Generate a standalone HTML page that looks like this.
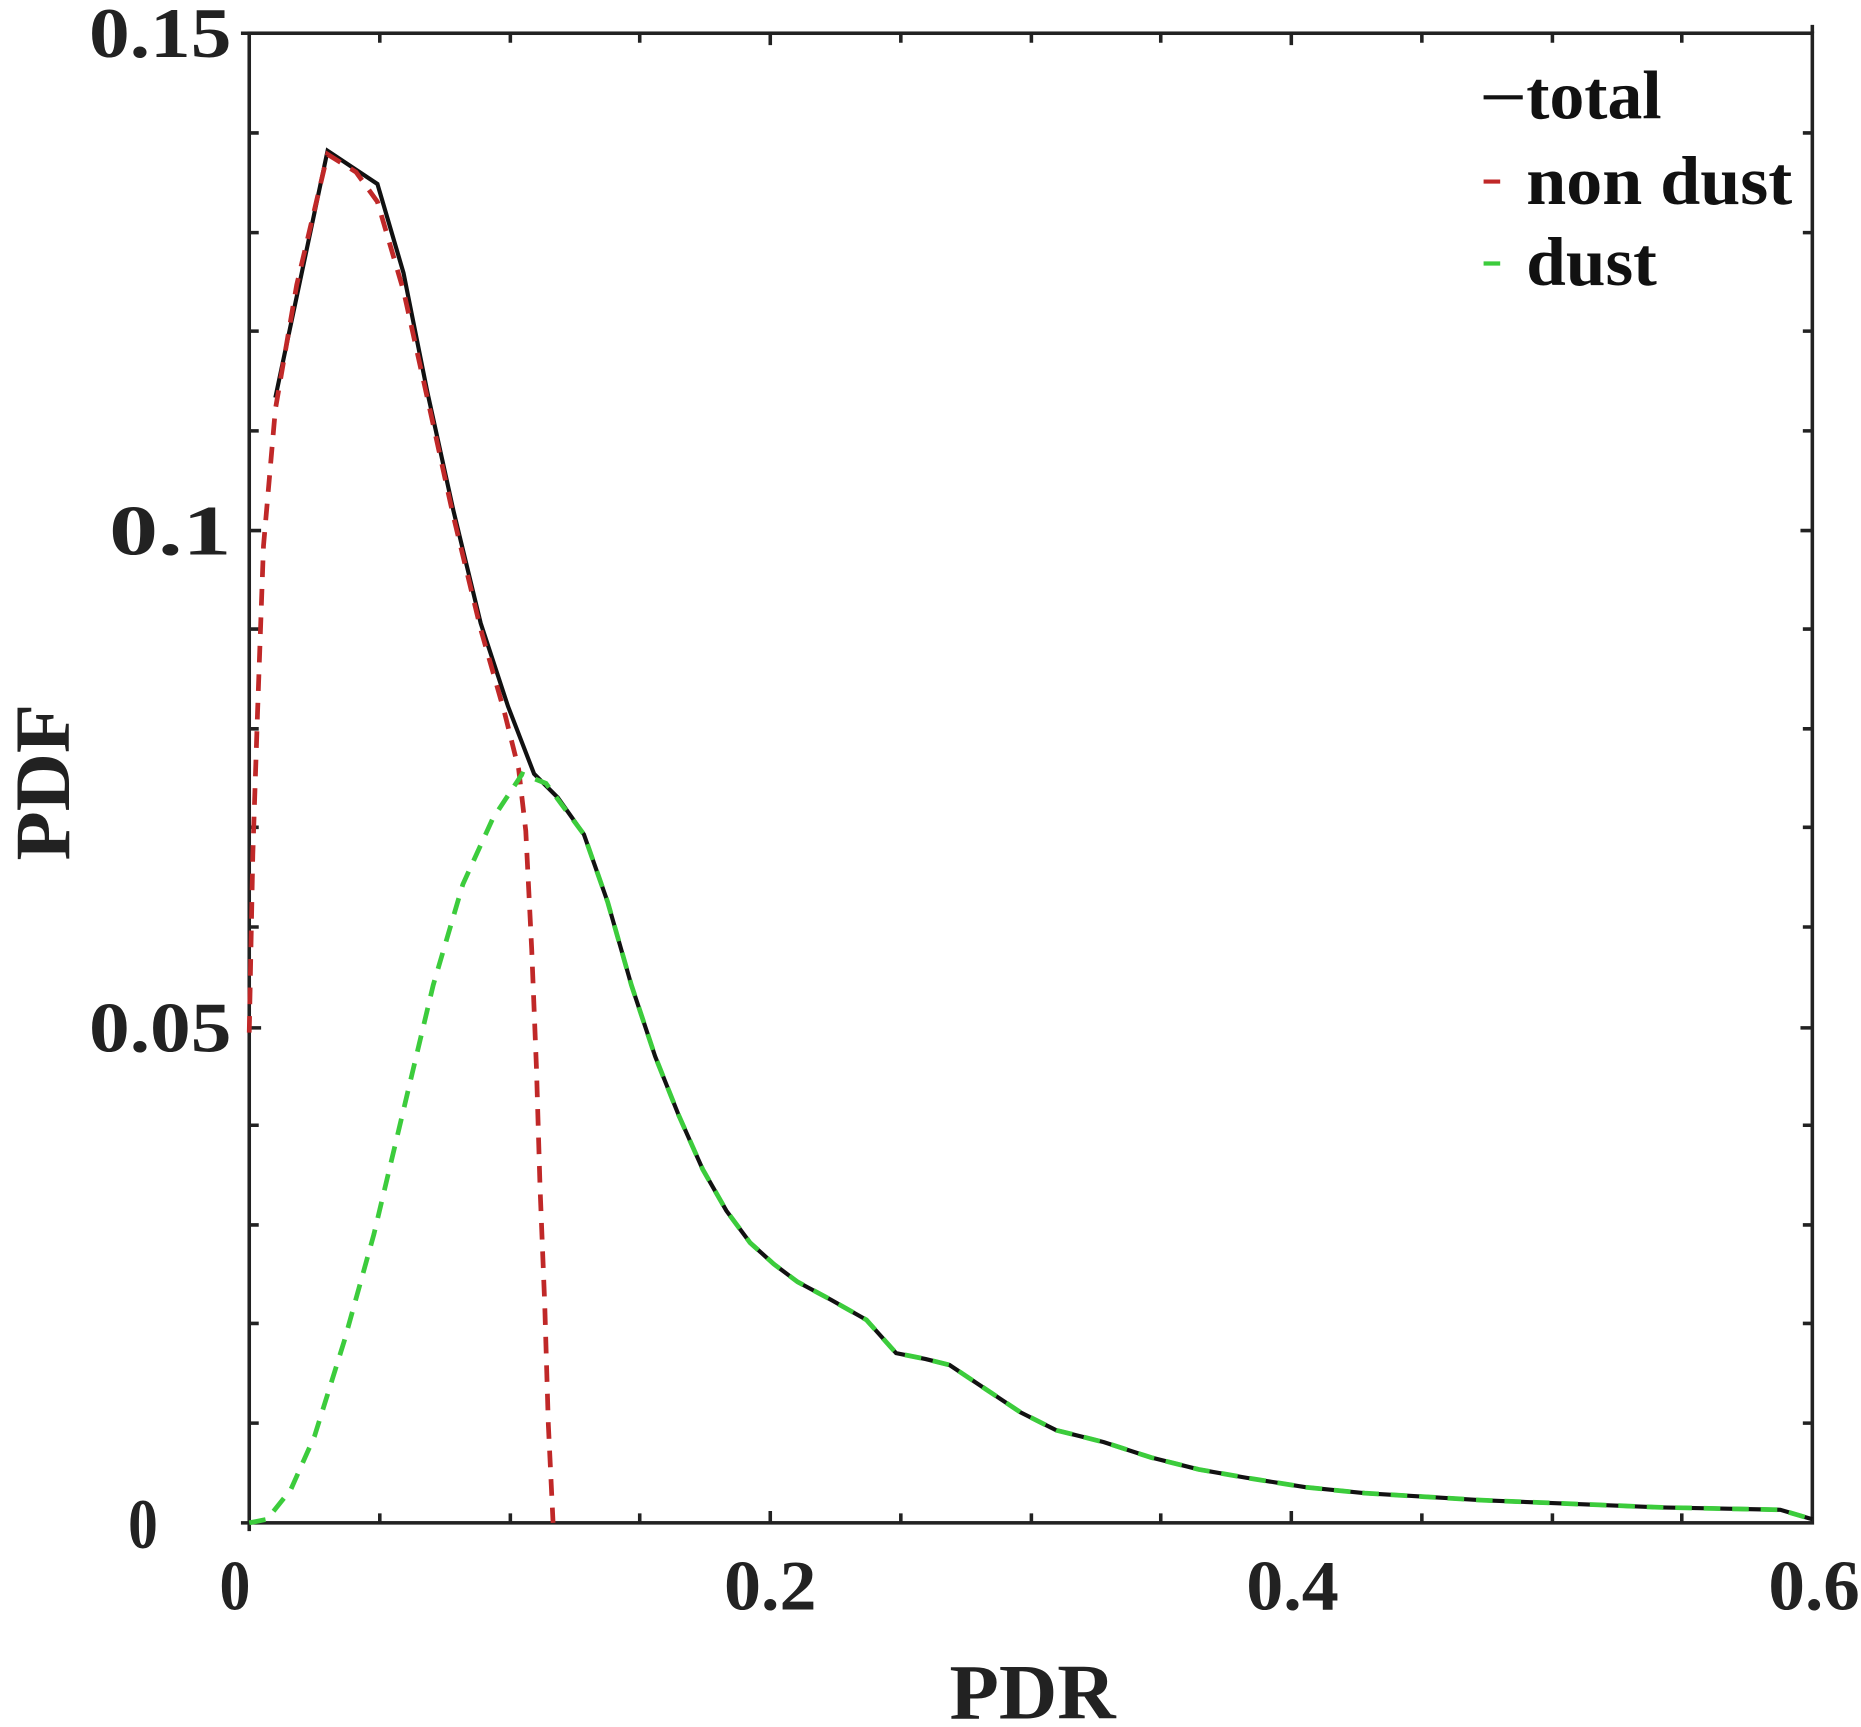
<!DOCTYPE html>
<html><head><meta charset="utf-8"><style>html,body{margin:0;padding:0;background:#fff}svg{display:block}text{font-family:"Liberation Serif","DejaVu Serif",serif;font-weight:bold}</style></head>
<body>
<svg width="1861" height="1727" viewBox="0 0 1568 1455" preserveAspectRatio="none" xmlns="http://www.w3.org/2000/svg">
<rect width="1568" height="1455" fill="#fff"/>
<g stroke="#222" stroke-width="3" fill="none">
<rect x="210" y="28" width="1317" height="1255"/>
<path d="M203 1283h7M203 28h7M210 1283v7M1527 28v-7"/>
<path d="M210 1199h8M210 1115h8M210 1032h8M210 948h8M210 866h10M210 781h8M210 697h8M210 614h8M210 530h8M210 447h10M210 363h8M210 279h8M210 196h8M210 112h8
M1527 1199h-8M1527 1115h-8M1527 1032h-8M1527 948h-8M1527 866h-10M1527 781h-8M1527 697h-8M1527 614h-8M1527 530h-8M1527 447h-10M1527 363h-8M1527 279h-8M1527 196h-8M1527 112h-8"/>
<path d="M320 1283v-8M430 1283v-8M539 1283v-8M649 1283v-10M759 1283v-8M869 1283v-8M978 1283v-8M1088 1283v-10M1198 1283v-8M1308 1283v-8M1417 1283v-8
M320 28v8M430 28v8M539 28v8M649 28v10M759 28v8M869 28v8M978 28v8M1088 28v10M1198 28v8M1308 28v8M1417 28v8"/>
</g>
<g font-size="60" fill="#222">
<text x="75" y="48" textLength="120" lengthAdjust="spacingAndGlyphs">0.15</text>
<text x="92" y="467" textLength="103" lengthAdjust="spacingAndGlyphs">0.1</text>
<text x="75" y="886" textLength="120" lengthAdjust="spacingAndGlyphs">0.05</text>
<text x="108" y="1304" textLength="25" lengthAdjust="spacingAndGlyphs">0</text>
<text x="185" y="1356" textLength="26" lengthAdjust="spacingAndGlyphs">0</text>
<text x="610" y="1356" textLength="78" lengthAdjust="spacingAndGlyphs">0.2</text>
<text x="1050" y="1356" textLength="78" lengthAdjust="spacingAndGlyphs">0.4</text>
<text x="1490" y="1356" textLength="77" lengthAdjust="spacingAndGlyphs">0.6</text>
<text x="800" y="1448" font-size="66" textLength="140" lengthAdjust="spacingAndGlyphs">PDR</text>
<text transform="translate(58,725) rotate(-90)" font-size="66" textLength="132" lengthAdjust="spacingAndGlyphs">PDF</text>
</g>
<polyline fill="none" stroke="#111" stroke-width="3.5" points="232,335 276,127 318,155 340,230 360,330 382,430 405,525 428,595 450,652 470,672 492,703 512,760 532,830 552,890 572,940 592,985 612,1020 632,1047 652,1065 672,1080 700,1095 730,1112 755,1140 780,1145 800,1150 830,1170 860,1190 890,1205 930,1215 970,1228 1010,1238 1050,1245 1100,1253 1150,1258 1200,1261 1250,1264 1300,1266 1350,1268 1400,1270 1450,1271 1500,1272 1527,1280"/>
<polyline fill="none" stroke="#c02828" stroke-width="4" stroke-dasharray="14,10" points="210,870 213,720 217,600 222,460 232,345 250,240 276,130 300,145 318,170 340,245 360,335 382,435 405,530 425,600 437,648 443,700 448,800 452,900 455,1000 459,1100 462,1200 466,1283"/>
<polyline fill="none" stroke="#3ccc3c" stroke-width="4" stroke-dasharray="14,10" points="210,1283 225,1280 245,1255 265,1210 290,1130 315,1040 340,935 365,830 390,745 415,690 440,652 460,660 492,703 512,760 532,830 552,890 572,940 592,985 612,1020 632,1047 652,1065 672,1080 700,1095 730,1112 755,1140 780,1145 800,1150 830,1170 860,1190 890,1205 930,1215 970,1228 1010,1238 1050,1245 1100,1253 1150,1258 1200,1261 1250,1264 1300,1266 1350,1268 1400,1270 1450,1271 1500,1272 1527,1280"/>
<g font-size="58" fill="#111">
<line x1="1250" y1="82" x2="1283" y2="82" stroke="#111" stroke-width="3.5"/>
<text x="1286" y="100" textLength="114" lengthAdjust="spacingAndGlyphs">total</text>
<line x1="1250" y1="153" x2="1264" y2="153" stroke="#c02828" stroke-width="3.5"/>
<text x="1286" y="172" textLength="224" lengthAdjust="spacingAndGlyphs">non dust</text>
<line x1="1250" y1="222" x2="1264" y2="222" stroke="#3ccc3c" stroke-width="3.5"/>
<text x="1286" y="240" textLength="110" lengthAdjust="spacingAndGlyphs">dust</text>
</g>
</svg>
</body></html>
